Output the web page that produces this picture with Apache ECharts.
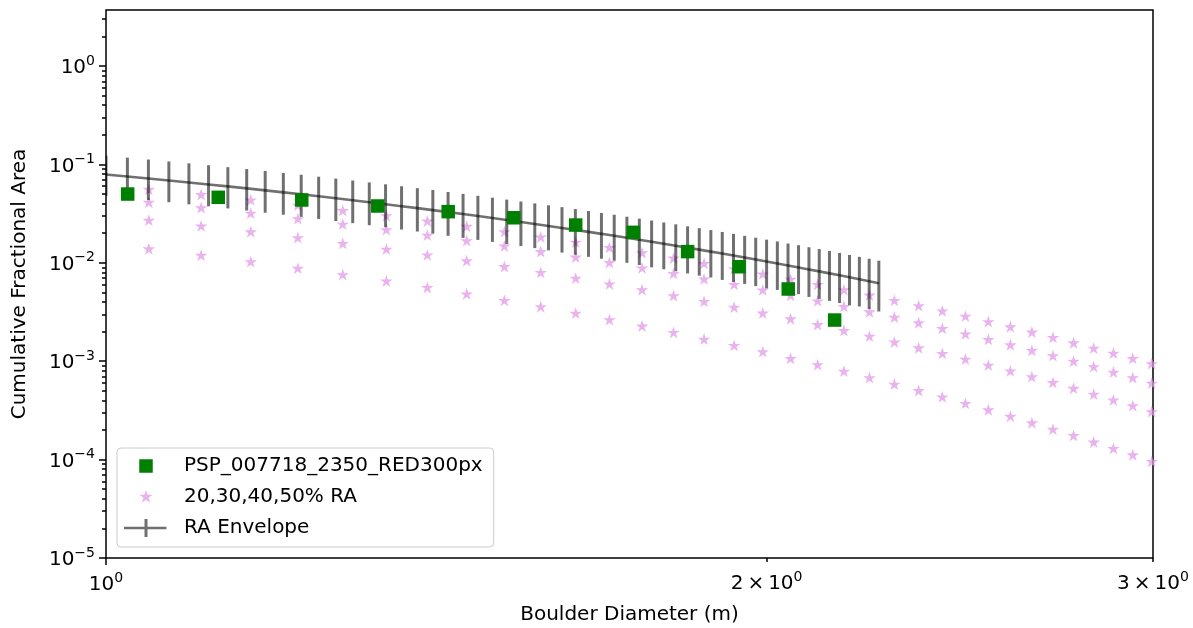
<!DOCTYPE html>
<html>
<head>
<meta charset="utf-8">
<script src="https://cdn.jsdelivr.net/npm/echarts@6/dist/echarts.min.js"></script>
<style>
html,body{margin:0;padding:0;background:#fff;}
#chart{width:1193px;height:628px;}
</style>
</head>
<body>
<div id="chart"></div>
<script>
// ---------------- data ----------------
const pspName = 'PSP_007718_2350_RED300px';
const raName = '20,30,40,50% RA';
const envName = 'RA Envelope';

const pspD = [1.023, 1.125, 1.228, 1.330, 1.432, 1.534, 1.637, 1.739, 1.841, 1.943, 2.046, 2.148];
const pspF = [0.0500, 0.0463, 0.0435, 0.0378, 0.0331, 0.0287, 0.0242, 0.0204, 0.0130, 0.00913, 0.00542, 0.00262];

const starD = [1.046, 1.105, 1.164, 1.223, 1.282, 1.342, 1.401, 1.460, 1.519, 1.578, 1.637, 1.696,
  1.755, 1.814, 1.873, 1.933, 1.992, 2.051, 2.110, 2.169, 2.228, 2.287, 2.346, 2.405,
  2.464, 2.524, 2.583, 2.642, 2.701, 2.760, 2.819, 2.878, 2.937, 2.996];
const ra20 = [0.01389, 0.01195, 0.01028, 0.00884, 0.00760, 0.00654, 0.00562, 0.00484, 0.00416, 0.00358,
  0.00308, 0.00265, 0.00228, 0.00196, 0.00168, 0.00145, 0.00125, 0.00107, 0.000922, 0.000793,
  0.000682, 0.000586, 0.000504, 0.000434, 0.000373, 0.000321, 0.000276, 0.000237, 0.000204, 0.000176,
  0.000151, 0.000130, 0.000112, 0.0000961];
const ra30 = [0.02715, 0.02371, 0.02070, 0.01807, 0.01578, 0.01377, 0.01203, 0.01050, 0.00917, 0.00800,
  0.00699, 0.00610, 0.00533, 0.00465, 0.00406, 0.00354, 0.00309, 0.00270, 0.00236, 0.00206,
  0.00180, 0.00157, 0.00137, 0.00120, 0.00105, 0.000914, 0.000798, 0.000697, 0.000608, 0.000531,
  0.000463, 0.000404, 0.000353, 0.000308];
const ra40 = [0.04133, 0.03636, 0.03198, 0.02813, 0.02475, 0.02177, 0.01915, 0.01684, 0.01482, 0.01303,
  0.01146, 0.01008, 0.00887, 0.00780, 0.00686, 0.00604, 0.00531, 0.00467, 0.00411, 0.00361,
  0.00318, 0.00280, 0.00246, 0.00216, 0.00190, 0.00167, 0.00147, 0.00129, 0.00114, 0.00100,
  0.000882, 0.000776, 0.000682, 0.000600];
const ra50 = [0.05594, 0.04943, 0.04367, 0.03859, 0.03410, 0.03013, 0.02662, 0.02352, 0.02078, 0.01836,
  0.01622, 0.01434, 0.01267, 0.01119, 0.00989, 0.00874, 0.00772, 0.00682, 0.00603, 0.00533,
  0.00471, 0.00416, 0.00367, 0.00325, 0.00287, 0.00253, 0.00224, 0.00198, 0.00175, 0.00154,
  0.00136, 0.00121, 0.00107, 0.000944];

const envD = [1.0000, 1.0227, 1.0455, 1.0682, 1.0909, 1.1136, 1.1364, 1.1591, 1.1818, 1.2045,
  1.2273, 1.2500, 1.2727, 1.2955, 1.3182, 1.3409, 1.3636, 1.3864, 1.4091, 1.4318,
  1.4545, 1.4773, 1.5000, 1.5227, 1.5455, 1.5682, 1.5909, 1.6136, 1.6364, 1.6591,
  1.6818, 1.7045, 1.7273, 1.7500, 1.7727, 1.7955, 1.8182, 1.8409, 1.8636, 1.8864,
  1.9091, 1.9318, 1.9545, 1.9773, 2.0000, 2.0227, 2.0455, 2.0682, 2.0909, 2.1136,
  2.1364, 2.1591, 2.1818, 2.2045, 2.2273, 2.2500];
const envMid = [0.07890, 0.07533, 0.07193, 0.06868, 0.06557, 0.06261, 0.05978, 0.05708, 0.05450, 0.05203,
  0.04968, 0.04744, 0.04529, 0.04324, 0.04129, 0.03942, 0.03764, 0.03594, 0.03432, 0.03276,
  0.03128, 0.02987, 0.02852, 0.02723, 0.02600, 0.02482, 0.02370, 0.02263, 0.02161, 0.02063,
  0.01970, 0.01881, 0.01796, 0.01715, 0.01637, 0.01563, 0.01493, 0.01425, 0.01361, 0.01299,
  0.01241, 0.01185, 0.01131, 0.01080, 0.01031, 0.00985, 0.00940, 0.00898, 0.00857, 0.00818,
  0.00781, 0.00746, 0.00712, 0.00680, 0.00649, 0.00620];
const envHigh = [0.1226, 0.1173, 0.1121, 0.1072, 0.1026, 0.0981, 0.0938, 0.0897, 0.0858, 0.0820,
  0.0785, 0.0750, 0.0718, 0.0686, 0.0656, 0.0628, 0.0600, 0.0574, 0.0549, 0.0525,
  0.0502, 0.0480, 0.0459, 0.0439, 0.0420, 0.0402, 0.0384, 0.0368, 0.0352, 0.0336,
  0.0321, 0.0308, 0.0294, 0.0281, 0.0269, 0.0257, 0.0246, 0.0235, 0.0225, 0.0215,
  0.0206, 0.0197, 0.0188, 0.0180, 0.0172, 0.0165, 0.0157, 0.0151, 0.0144, 0.0138,
  0.0132, 0.0126, 0.0120, 0.0115, 0.0110, 0.0105];
const envLow = [0.0478, 0.0456, 0.0434, 0.0413, 0.0393, 0.0375, 0.0357, 0.0340, 0.0323, 0.0308,
  0.0293, 0.0279, 0.0266, 0.0253, 0.0241, 0.0230, 0.0218, 0.0208, 0.0198, 0.0188,
  0.0179, 0.0171, 0.0163, 0.0155, 0.0148, 0.0141, 0.0134, 0.0127, 0.0121, 0.0115,
  0.0110, 0.0105, 0.0100, 0.0095, 0.0090, 0.0086, 0.0082, 0.0078, 0.0074, 0.0071,
  0.0067, 0.0064, 0.0061, 0.0058, 0.0055, 0.0053, 0.0050, 0.0048, 0.0045, 0.0043,
  0.0041, 0.0039, 0.0037, 0.0036, 0.0034, 0.0032];

const yMajorTicks = [1e-5, 1e-4, 1e-3, 1e-2, 1e-1, 1];
const yMinorTicks = [2e-5,3e-5,4e-5,5e-5,6e-5,7e-5,8e-5,9e-5,
  2e-4,3e-4,4e-4,5e-4,6e-4,7e-4,8e-4,9e-4,
  2e-3,3e-3,4e-3,5e-3,6e-3,7e-3,8e-3,9e-3,
  2e-2,3e-2,4e-2,5e-2,6e-2,7e-2,8e-2,9e-2,
  0.2,0.3,0.4,0.5,0.6,0.7,0.8,0.9, 2, 3];
const xMajorTicks = [1];
const xMinorTicks = [2, 3];

// ---------------- styling ----------------
const FONT = 'DejaVu Sans';
const rich = {
  b: {fontSize: 20, lineHeight: 24, verticalAlign: 'bottom', fontFamily: FONT, color: '#000'},
  s: {fontSize: 14, lineHeight: 14, verticalAlign: 'top', fontFamily: FONT, color: '#000'}
};
function supLabel(base, exp) {
  const e = exp < 0 ? '\u2212' + (-exp) : String(exp);
  return '{b|' + base + '}{s|' + e + '}';
}
function yFmt(v) { return supLabel('10', Math.round(Math.log10(v))); }
function xFmt(v) {
  const m = Math.round(v);
  if (m === 1) return supLabel('10', 0);
  return supLabel(m + '\u2009\u00d7\u200910', 0);
}

const STAR = 'path://M0,-1 L0.2245,-0.309 L0.951,-0.309 L0.3633,0.118 L0.5878,0.809 L0,0.382 L-0.5878,0.809 L-0.3633,0.118 L-0.951,-0.309 L-0.2245,-0.309 Z';
const starColor = 'rgba(225,150,230,0.72)';
const envColor = 'rgba(0,0,0,0.56)';
const legSquare = 'path://M0,0 M55,20 M15.25,3.25 L28.75,3.25 L28.75,16.75 L15.25,16.75 Z';
const legStar = 'path://M0,0 M55,20 M22,3 L23.572,7.837 L28.657,7.837 L24.543,10.826 L26.114,15.663 L22,12.674 L17.886,15.663 L19.457,10.826 L15.343,7.837 L20.428,7.837 Z';
const legEnv = 'path://M0,0 M55,20 M0,8.75 L42.5,8.75 L42.5,11.25 L0,11.25 Z M20.5,1 L23.5,1 L23.5,19 L20.5,19 Z';

const starData = [];
[ra20, ra30, ra40, ra50].forEach(arr => arr.forEach((v, i) => starData.push([starD[i], v])));

const tickLine = {color: '#000', width: 1.5};

const option = {
  animation: false,
  backgroundColor: '#fff',
  textStyle: {fontFamily: FONT},
  grid: {left: 106, right: 40, top: 10, bottom: 70, show: true, borderColor: '#000', borderWidth: 1.5,
    backgroundColor: 'transparent', outerBoundsMode: 'none', containLabel: false},
  legend: {
    orient: 'vertical', left: 117, top: 448,
    padding: [8, 11, 9, 7], itemGap: 11, itemWidth: 55, itemHeight: 20,
    backgroundColor: 'rgba(255,255,255,0.8)', borderColor: '#cccccc', borderWidth: 1, borderRadius: 4,
    selectedMode: false,
    textStyle: {fontSize: 20, fontFamily: FONT, color: '#000', lineHeight: 20},
    data: [
      {name: pspName, icon: legSquare, itemStyle: {color: '#008000', opacity: 1}},
      {name: raName, icon: legStar, itemStyle: {color: starColor, opacity: 1}},
      {name: envName, icon: legEnv, itemStyle: {color: envColor, opacity: 1}}
    ]
  },
  xAxis: [
    {
      type: 'log', logBase: 10, min: 1, max: 3, position: 'bottom', gridIndex: 0,
      axisLine: {show: false}, splitLine: {show: false}, minorTick: {show: false},
      axisTick: {show: true, customValues: xMajorTicks, length: 7, lineStyle: tickLine},
      axisLabel: {customValues: xMajorTicks, formatter: xFmt, rich: rich, margin: 13},
      name: 'Boulder Diameter (m)', nameLocation: 'middle', nameGap: 47,
      nameTextStyle: {fontSize: 20, fontFamily: FONT, color: '#000'}
    },
    {
      type: 'log', logBase: 10, min: 1, max: 3, position: 'bottom', gridIndex: 0,
      axisLine: {show: false}, splitLine: {show: false}, minorTick: {show: false},
      axisTick: {show: true, customValues: xMinorTicks, length: 4, lineStyle: tickLine},
      axisLabel: {customValues: xMinorTicks, formatter: xFmt, rich: rich, margin: 12}
    }
  ],
  yAxis: [
    {
      type: 'log', logBase: 10, min: 1e-5, max: 3.71, position: 'left', gridIndex: 0,
      axisLine: {show: false}, splitLine: {show: false}, minorTick: {show: false},
      axisTick: {show: true, customValues: yMajorTicks, length: 7, lineStyle: tickLine},
      axisLabel: {customValues: yMajorTicks, formatter: yFmt, rich: rich, margin: 11},
      name: 'Cumulative Fractional Area', nameLocation: 'middle', nameGap: 76,
      nameTextStyle: {fontSize: 20, fontFamily: FONT, color: '#000'}
    },
    {
      type: 'log', logBase: 10, min: 1e-5, max: 3.71, position: 'left', gridIndex: 0,
      axisLine: {show: false}, splitLine: {show: false}, minorTick: {show: false},
      axisTick: {show: true, customValues: yMinorTicks, length: 4, lineStyle: tickLine},
      axisLabel: {show: false}
    }
  ],
  series: [
    {
      name: raName, type: 'scatter', xAxisIndex: 0, yAxisIndex: 0,
      symbol: STAR, symbolSize: [12.5, 11.9],
      itemStyle: {color: starColor, opacity: 1},
      data: starData, z: 1, clip: true
    },
    {
      name: envName, type: 'line', xAxisIndex: 0, yAxisIndex: 0,
      data: envD.map((d, i) => [d, envMid[i]]),
      symbol: 'none', showSymbol: false, smooth: false,
      lineStyle: {color: envColor, width: 2.6}, itemStyle: {color: envColor},
      z: 2, clip: true
    },
    {
      name: envName, type: 'custom', xAxisIndex: 0, yAxisIndex: 0,
      data: envD.map((d, i) => [d, envLow[i], envHigh[i]]),
      encode: {x: 0, y: [1, 2]},
      itemStyle: {color: envColor},
      renderItem: function (params, api) {
        const x = api.value(0);
        const p1 = api.coord([x, api.value(1)]);
        const p2 = api.coord([x, api.value(2)]);
        return {
          type: 'line',
          shape: {x1: p1[0], y1: p1[1], x2: p2[0], y2: p2[1]},
          style: {stroke: envColor, lineWidth: 3, fill: null}
        };
      },
      z: 2, clip: true
    },
    {
      name: pspName, type: 'scatter', xAxisIndex: 0, yAxisIndex: 0,
      symbol: 'rect', symbolSize: 13.5,
      itemStyle: {color: '#008000', opacity: 1},
      data: pspD.map((d, i) => [d, pspF[i]]), z: 3
    }
  ]
};

const chart = echarts.init(document.getElementById('chart'), null, {renderer: 'canvas'});
chart.setOption(option);
</script>
</body>
</html>
